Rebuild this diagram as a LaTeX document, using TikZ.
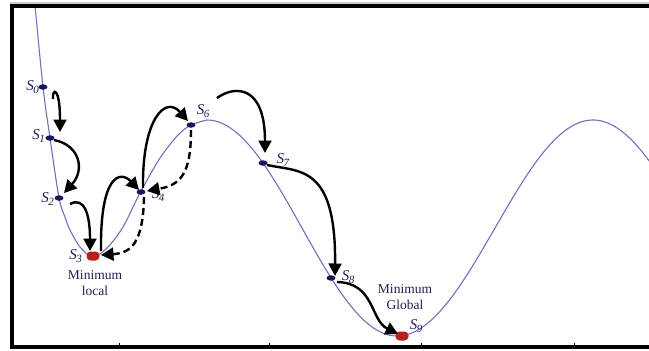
\documentclass[tikz,border=0pt]{standalone}
\usepackage{fontspec}
\setmainfont{Liberation Serif}
\usetikzlibrary{arrows.meta,shapes.geometric}
\definecolor{curvecol}{RGB}{112,112,190}
\definecolor{navydot}{RGB}{22,22,92}
\definecolor{labcol}{RGB}{30,30,85}
\definecolor{redmin}{RGB}{185,32,32}
\newcommand{\Slab}[1]{\textit{S}\kern-0.5pt\raisebox{-2.8pt}{\fontsize{11}{11}\selectfont\textit{#1}}}
\tikzset{
  statedot/.style={ellipse, fill=navydot, inner sep=0pt, minimum width=9pt, minimum height=5.5pt},
  mindot/.style={rectangle, rounded corners=4pt, fill=redmin, inner sep=0pt, minimum width=13pt, minimum height=9pt},
  slabel/.style={text=labcol, font=\fontsize{15}{15}\selectfont, inner sep=0pt},
  mintext/.style={text=labcol, font=\fontsize{13.5}{16}\selectfont, align=center, inner sep=0pt},
  move/.style={line width=2.4pt, -{Triangle[length=12.5pt,width=13pt]}},
  backmove/.style={move, dash pattern=on 7pt off 4pt},
  frameline/.style={line width=3.5pt},
  curveline/.style={draw=curvecol, line width=1.1pt}
}
\begin{document}
\begin{tikzpicture}[x=1pt,y=-1pt]
\useasboundingbox (0,0) rectangle (649,351);
% frame
\draw[gray!40, line width=1.2pt] (10,3) -- (649,3);
\draw[frameline] (649,6) -- (12,6) -- (12,347) -- (649,347);
\foreach \t in {119,269,421,574} \draw[line width=1pt] (\t,347) -- (\t,343);
% curve
\begin{scope}
\clip (14,8) rectangle (649,345);
\draw[curveline] plot[smooth, tension=0.5] coordinates {(34,-5) (43,87) (50,138) (59,198) (65,217) (70,230) (80,247) (93,257) (107,248) (123,227) (140,193) (160,158) (178,135) (191,125) (207,120)};
\draw[curveline] plot[domain=207:397, samples=70] (\x, {228-108*cos((\x-207)*0.947368)});
\draw[curveline] plot[domain=397:655, samples=90] (\x, {228+108*cos((\x-397)*0.918367)});
\end{scope}
% states
\node[statedot] (s0) at (43,87) {};
\node[statedot] (s1) at (50,138) {};
\node[statedot] (s2) at (59,198) {};
\node[mindot]   (s3) at (93,256) {};
\node[statedot] (s4) at (141,192) {};
\node[statedot] (s6) at (191,125) {};
\node[statedot] (s7) at (263,163) {};
\node[statedot] (s8) at (331,278) {};
\node[mindot]   (s9) at (402,336) {};
% labels
\node[slabel, anchor=east] (l0) at (39,87) {\Slab{0}};
\node[slabel, anchor=east] (l1) at (45,136) {\Slab{1}};
\node[slabel, anchor=east] (l2) at (54,199) {\Slab{2}};
\node[slabel, anchor=east] (l3) at (82,256) {\Slab{3}};
\node[slabel] (l4) at (158,195) {\Slab{4}};
\node[slabel] (l6) at (203,111) {\Slab{6}};
\node[slabel] (l7) at (283,160) {\Slab{7}};
\node[slabel] (l8) at (348,277) {\Slab{8}};
\node[slabel] (l9) at (416,326) {\Slab{9}};
\node[mintext] (ml) at (95,283) {Minimum\\local};
\node[mintext] (mg) at (405,297) {Minimum\\Global};
% moves
\draw[move] ([shift={(10,12)}]s0.center) .. controls ([shift={(9,1)}]s0.center) and ([shift={(10,-52)}]s1.center) .. ([shift={(10,-6)}]s1.center);
\draw[move] ([shift={(4,2)}]s1.center) .. controls ([shift={(30,7)}]s1.center) and ([shift={(26,-28)}]s2.center) .. ([shift={(5,-5)}]s2.center);
\draw[move] ([shift={(11,6)}]s2.center) .. controls ([shift={(26,-2)}]s2.center) and ([shift={(-3,-40)}]s3.center) .. ([shift={(-3,-5)}]s3.center);
\draw[move] ([shift={(8,-5)}]s3.center) .. controls ([shift={(7,-81)}]s3.center) and ([shift={(-21,-22)}]s4.center) .. ([shift={(-2,-2)}]s4.center);
\draw[move] ([shift={(2,-4)}]s4.center) .. controls ([shift={(1,-72)}]s4.center) and ([shift={(-26,-30)}]s6.center) .. ([shift={(-3,-4)}]s6.center);
\draw[backmove] ([shift={(0,5)}]s6.center) .. controls ([shift={(0,50)}]s6.center) and ([shift={(39,-7)}]s4.center) .. ([shift={(6,-1)}]s4.center);
\draw[backmove] ([shift={(3,5)}]s4.center) .. controls ([shift={(2,53)}]s4.center) and ([shift={(37,-3)}]s3.center) .. ([shift={(8,-1)}]s3.center);
\draw[move] ([shift={(26,-27)}]s6.center) .. controls ([shift={(44,-40)}]s6.center) and ([shift={(2,-78)}]s7.center) .. ([shift={(2,-10)}]s7.center);
\draw[move] ([shift={(4,2)}]s7.center) .. controls ([shift={(37,9)}]s7.center) and ([shift={(5,-113)}]s8.center) .. ([shift={(4,-2)}]s8.center);
\draw[move] ([shift={(6,4)}]s8.center) .. controls ([shift={(44,5)}]s8.center) and ([shift={(-32,-16)}]s9.center) .. ([shift={(-4,-2)}]s9.center);
\end{tikzpicture}
\end{document}
